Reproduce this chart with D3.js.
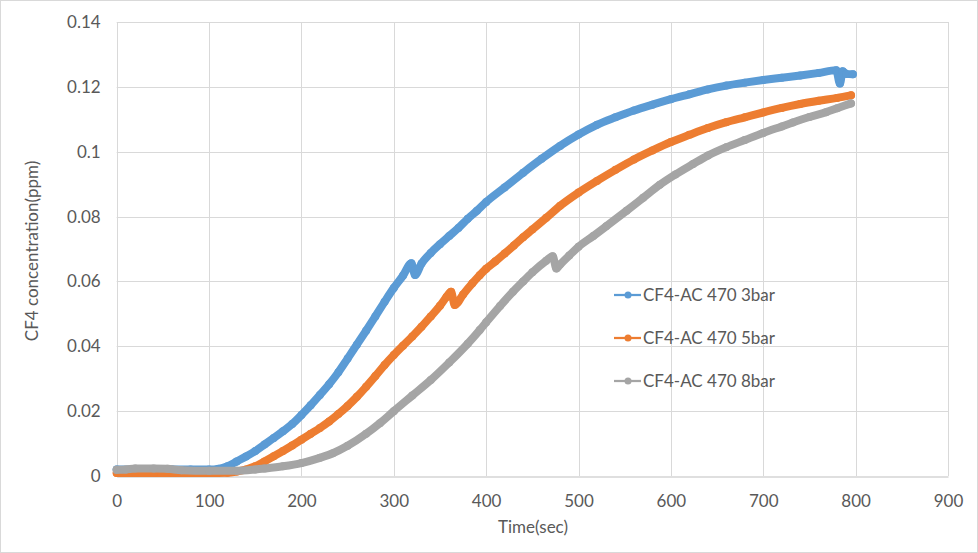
<!DOCTYPE html>
<html>
<head>
<meta charset="utf-8">
<script src="https://cdn.jsdelivr.net/npm/d3@7"></script>
<style>
  html, body { margin: 0; padding: 0; background: #fff; }
  svg { display: block; }
  text { font-family: Lato, "Open Sans", sans-serif; fill: #595959; }
</style>
</head>
<body>
<svg id="chart" width="978" height="553"></svg>
<script>
// ---- data ----
const seriesNames = ["CF4-AC 470 3bar", "CF4-AC 470 5bar", "CF4-AC 470 8bar"];
const seriesColors = ["#5B9BD5", "#ED7D31", "#A5A5A5"];

const time3bar = [0,20,40,60,80,100,110,120,130,140,150,160,170,180,190,200,210,220,230,240,250,260,270,280,290,300,310,319,323,330,340,350,360,370,380,390,400,420,440,460,480,500,520,540,560,580,600,620,640,660,680,700,720,740,760,779,783,786,790,797];
const conc3bar = [0.0020,0.0020,0.0020,0.0020,0.0020,0.0020,0.0022,0.0030,0.0045,0.0060,0.0077,0.0097,0.0117,0.0138,0.0160,0.0188,0.0218,0.0250,0.0283,0.0320,0.0362,0.0405,0.0448,0.0492,0.0537,0.0580,0.0618,0.0656,0.0620,0.0655,0.0688,0.0715,0.0740,0.0765,0.0793,0.0818,0.0845,0.0890,0.0935,0.0978,0.1018,0.1053,0.1083,0.1106,0.1127,0.1145,0.1162,0.1177,0.1192,0.1204,0.1213,0.1221,0.1228,0.1235,0.1243,0.1251,0.1210,0.1248,0.1240,0.1239];

const time5bar = [0,20,40,60,80,100,120,130,140,150,160,170,180,190,200,210,220,230,240,250,260,270,280,290,300,310,320,330,340,350,357,362,366,375,385,393,400,410,420,430,440,450,465,480,500,520,540,560,580,600,620,640,660,680,700,720,740,760,780,795];
const conc5bar = [0.0009,0.0009,0.0009,0.0009,0.0009,0.0009,0.0010,0.0014,0.0020,0.0030,0.0045,0.0061,0.0077,0.0094,0.0112,0.0130,0.0148,0.0168,0.0191,0.0216,0.0244,0.0275,0.0308,0.0342,0.0373,0.0402,0.0430,0.0460,0.0492,0.0525,0.0552,0.0568,0.0527,0.0560,0.0594,0.0619,0.0639,0.0662,0.0686,0.0711,0.0736,0.0760,0.0796,0.0833,0.0874,0.0910,0.0944,0.0976,0.1004,0.1030,0.1052,0.1073,0.1091,0.1106,0.1121,0.1135,0.1147,0.1157,0.1166,0.1174];

const time8bar = [0,10,20,40,55,70,100,130,150,160,180,200,220,234,250,270,285,300,320,340,360,380,393,400,415,429,440,450,465,472,476,480,490,500,516,530,552,570,588,605,624,640,660,680,700,720,732,750,768,780,795];
const conc8bar = [0.0019,0.0020,0.0023,0.0023,0.0022,0.0018,0.0016,0.0016,0.0020,0.0023,0.0030,0.0040,0.0056,0.0070,0.0093,0.0130,0.0163,0.0200,0.0248,0.0296,0.0350,0.0408,0.0450,0.0474,0.0524,0.0568,0.0600,0.0628,0.0664,0.0678,0.0640,0.0652,0.0680,0.0707,0.0740,0.0770,0.0818,0.0858,0.0898,0.0930,0.0962,0.0988,0.1014,0.1036,0.1058,0.1078,0.1090,0.1107,0.1122,0.1134,0.1149];

const xTicks = [0,100,200,300,400,500,600,700,800,900];
const yTicks = [0,0.02,0.04,0.06,0.08,0.1,0.12,0.14];
const xTitle = "Time(sec)";
const yTitle = "CF4 concentration(ppm)";

const series = [
  { name: seriesNames[0], color: seriesColors[0], t: time3bar, v: conc3bar },
  { name: seriesNames[1], color: seriesColors[1], t: time5bar, v: conc5bar },
  { name: seriesNames[2], color: seriesColors[2], t: time8bar, v: conc8bar }
];

// ---- layout ----
const svg = d3.select("#chart");
const W = 978, H = 553;
const plot = { left: 116.7, right: 948, top: 22, bottom: 476 };
const FONT = "17px";

svg.append("rect").attr("x", 0.5).attr("y", 0.5).attr("width", W - 1).attr("height", H - 1)
  .attr("fill", "#fff").attr("stroke", "#d9d9d9");

const x = d3.scaleLinear().domain([0, 900]).range([plot.left, plot.right]);
const y = d3.scaleLinear().domain([0, 0.14]).range([plot.bottom, plot.top]);

// gridlines
const grid = svg.append("g");
grid.selectAll("line.h").data(yTicks.filter(d => d > 0)).enter().append("line")
  .attr("x1", plot.left).attr("x2", plot.right)
  .attr("y1", d => Math.round(y(d)) + 0.5).attr("y2", d => Math.round(y(d)) + 0.5)
  .attr("stroke", "#d9d9d9").attr("stroke-width", 1);
grid.selectAll("line.v").data(xTicks).enter().append("line")
  .attr("y1", plot.top).attr("y2", plot.bottom)
  .attr("x1", d => Math.round(x(d)) + 0.5).attr("x2", d => Math.round(x(d)) + 0.5)
  .attr("stroke", "#d9d9d9").attr("stroke-width", 1);

// x axis
const xAxis = d3.axisBottom(x).tickValues(xTicks).tickSize(0).tickPadding(18).tickFormat(d3.format("d"));
const gx = svg.append("g").attr("transform", `translate(0,${Math.round(plot.bottom) + 0.5})`).call(xAxis);
gx.select(".domain").attr("stroke", "#bfbfbf");
gx.selectAll("text").attr("font-size", FONT).attr("font-family", "Lato, 'Open Sans', sans-serif").attr("fill", "#595959");

// y axis
const yAxis = d3.axisLeft(y).tickValues(yTicks).tickSize(0).tickPadding(16).tickFormat(d => d === 0 ? "0" : String(+d.toFixed(2)));
const gy = svg.append("g").attr("transform", `translate(${plot.left},0)`).call(yAxis);
gy.select(".domain").remove();
gy.selectAll("text").attr("font-size", FONT).attr("font-family", "Lato, 'Open Sans', sans-serif").attr("fill", "#595959");

// axis titles
svg.append("text").attr("x", 533).attr("y", 533).attr("text-anchor", "middle")
  .attr("font-size", FONT).text(xTitle);
svg.append("text").attr("transform", "translate(38,251) rotate(-90)").attr("text-anchor", "middle")
  .attr("font-size", FONT).text(yTitle);

// series
const line = d3.line().x(d => x(d[0])).y(d => y(d[1])).curve(d3.curveMonotoneX);
series.forEach(s => {
  const pts = s.t.map((t, i) => [t, s.v[i]]);
  const g = svg.append("g");
  g.append("path").datum(pts).attr("d", line).attr("fill", "none")
    .attr("stroke", s.color).attr("stroke-width", 8)
    .attr("stroke-linejoin", "round").attr("stroke-linecap", "round");
  g.selectAll("circle").data(pts).enter().append("circle")
    .attr("cx", d => x(d[0])).attr("cy", d => y(d[1])).attr("r", 4).attr("fill", s.color);
});

// legend
const legendY = [295, 338, 381];
series.forEach((s, i) => {
  const g = svg.append("g").attr("transform", `translate(0,${legendY[i]})`);
  g.append("line").attr("x1", 614).attr("x2", 641).attr("y1", 0).attr("y2", 0)
    .attr("stroke", s.color).attr("stroke-width", 2.25);
  g.append("circle").attr("cx", 628).attr("cy", 0).attr("r", 3.5).attr("fill", s.color);
  g.append("text").attr("x", 643).attr("y", 6).attr("font-size", FONT).text(s.name);
});
</script>
</body>
</html>
